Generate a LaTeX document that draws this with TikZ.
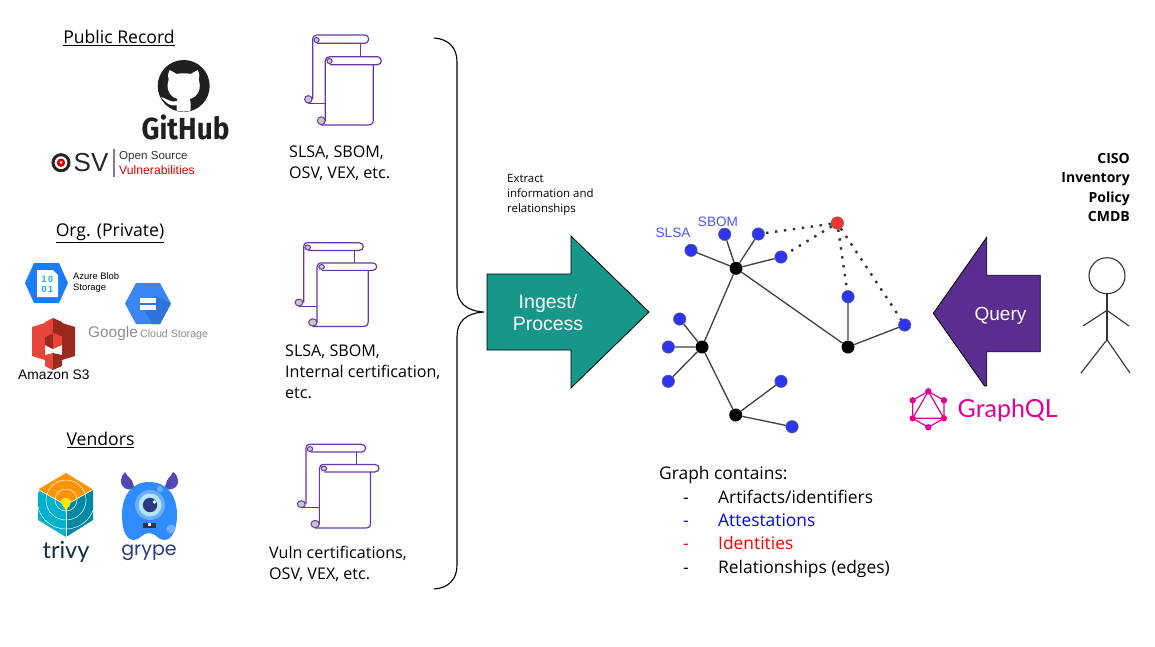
\documentclass[tikz,border=0pt]{standalone}
\usepackage{fontspec}
\usetikzlibrary{arrows.meta}
\setmainfont{Open Sans}
\newfontfamily\lib{Liberation Sans}
\newfontfamily\fira{Fira Sans}
\newfontfamily\lato{Lato}
\newfontfamily\pop{Poppins}
\definecolor{scrollc}{HTML}{6A35A8}
\definecolor{tealar}{HTML}{16978A}
\definecolor{qpurple}{HTML}{5C2D91}
\definecolor{vblue}{HTML}{2E35F0}
\definecolor{vred}{HTML}{F0352E}
\definecolor{gql}{HTML}{E10098}
\definecolor{azurehex}{HTML}{1A7CFB}
\definecolor{azuretxt}{HTML}{1EA7F5}
\definecolor{gcphex}{HTML}{3A86F5}
\definecolor{gcpdark}{HTML}{2F74DC}
\definecolor{s3light}{HTML}{E8453A}
\definecolor{s3dark}{HTML}{9A2A1C}
\definecolor{trorange}{HTML}{FF9400}
\definecolor{trcyan}{HTML}{00B0CF}
\definecolor{trteal}{HTML}{0088A5}
\definecolor{trtxt}{HTML}{0F2F3F}
\definecolor{grbody}{HTML}{2F8CFF}
\definecolor{grhorn}{HTML}{5546B5}
\definecolor{grtxt}{HTML}{2E3A80}
\tikzset{
  x=1pt,y=-1pt,
  heading/.style={font=\fontsize{17.6}{21}\selectfont,anchor=center,inner sep=0pt},
  body/.style={font=\fontsize{16.1}{21}\selectfont,align=left,anchor=north west,inner sep=0pt},
  listitem/.style={font=\fontsize{17.4}{20}\selectfont,anchor=base west,inner sep=0pt},
  blue vertex/.style={circle,draw=black!60,line width=.5pt,fill=vblue,minimum size=12.5pt,inner sep=0pt},
  black vertex/.style={circle,fill=black,minimum size=13pt,inner sep=0pt},
  red vertex/.style={circle,draw=black!60,line width=.5pt,fill=vred,minimum size=12.5pt,inner sep=0pt},
  edge line/.style={draw=black!75,line width=1.3pt},
  dot line/.style={draw=black!80,line width=2.4pt,dash pattern=on 2.4pt off 6.6pt},
  stick/.style={draw=black!80,line width=1.1pt},
  scrollline/.style={draw=scrollc,line width=1.2pt,line join=round},
  curl/.style={draw=scrollc,line width=1pt,fill=black!22},
  lbl/.style={inner sep=0pt,anchor=center},
  pics/scrollicon/.style={code={
    \draw[scrollline] (4.3,69.3) -- (21.3,69.3);
    \draw[scrollline] (8.7,65) -- (8.7,6) .. controls (8.7,2.5) and (10,1) .. (13,1) -- (60.7,1) .. controls (66,1) and (66,9.3) .. (60.7,9.3) -- (13,9.3);
    \draw[scrollline] (56.3,9.3) -- (56.3,22.7);
    \draw[curl] (4.3,65.3) circle (3.7);
    \draw[curl] (12.5,6) circle (2.6);
    \draw[scrollline] (21.3,87) -- (21.3,27) .. controls (21.3,24) and (23,22.7) .. (26,22.7) -- (73.5,22.7) .. controls (78.5,22.7) and (78.5,30.7) .. (73.5,30.7) -- (26,30.7);
    \draw[scrollline] (69.3,30.7) -- (69.3,86) .. controls (69.3,89.5) and (67.5,91) .. (64,91) -- (17,91);
    \draw[curl] (17.3,86.7) circle (3.9);
    \draw[curl] (25.5,27) circle (2.6);
  }}
}
\begin{document}
\begin{tikzpicture}
\useasboundingbox (0,0) rectangle (1155,646);

% ---- headings
\node[heading] (h1) at (119,38) {\underline{Public Record}};
\node[heading] (h2) at (110,233) {\underline{Org. (Private)}};
\node[heading] (h3) at (100.5,440) {\underline{Vendors}};

% ---- GitHub
\begin{scope}[shift={(183.7,86)}]
  \fill[black!88] (0,0) circle (26);
  \clip (0,0) circle (25.6);
  \fill[white] (-14,-16) -- (-7,-12) .. controls (-3,-13) and (3,-13) .. (7,-12) -- (14,-16)
     .. controls (16,-12) and (16,-9) .. (15,-6) .. controls (18,1) and (15,11) .. (6,13)
     .. controls (7,15) and (7,17) .. (7,30) -- (-7,30) -- (-7,19)
     .. controls (-14,21) and (-17,17) .. (-23,11) .. controls (-17,12) and (-14,17) .. (-7,15)
     -- (-6,13) .. controls (-15,11) and (-18,1) .. (-15,-6) .. controls (-16,-9) and (-16,-12) .. (-14,-16) -- cycle;
\end{scope}
\node[lbl,text=black!88,font=\fira\bfseries\fontsize{30.5}{30}\selectfont,xscale=.915] (gh) at (185.5,127) {GitHub};

% ---- OSV
\draw[black!85,line width=3pt] (61,162.7) circle (8);
\fill[red!85!black] (61,162.7) circle (4.2);
\fill[white] (61,162.5) circle (1.4);
\node[lbl,anchor=west,text=black!85,font=\lib\fontsize{26}{28}\selectfont] (osv) at (73.5,163) {SV};
\fill[black!50] (113.2,149) rectangle (115,177);
\node[lbl,anchor=west,text=black!80,font=\lib\fontsize{11.6}{13}\selectfont] (osv1) at (119,156.8) {Open Source};
\node[lbl,anchor=west,text=red!85!black,font=\lib\fontsize{12.2}{13}\selectfont] (osv2) at (119,169.8) {Vulnerabilities};

% ---- Azure
\fill[azurehex] (25,283) -- (34,263) -- (59,263) -- (68,283) -- (59,303) -- (34,303) -- cycle;
\fill[white] (37,270) -- (53,270) -- (58,275) -- (58,297) -- (37,297) -- cycle;
\node[lbl,text=azuretxt,align=center,font=\lib\bfseries\fontsize{9}{10}\selectfont] (az) at (47.5,284) {1\,0\\0\,1};
\node[lbl,anchor=north west,align=left,font=\lib\fontsize{9.4}{10.5}\selectfont] (azt) at (73,272.5) {Azure Blob\\Storage};

% ---- Google
\fill[gcphex] (125,303.5) -- (136,283) -- (160,283) -- (171,303.5) -- (160,324) -- (136,324) -- cycle;
\fill[gcpdark] (140,302) -- (156,296) -- (171,303.5) -- (160,324) -- (152,324) -- cycle;
\fill[white] (140,298) rectangle (156,302.5);
\fill[white] (140,305) rectangle (156,309.5);
\node[lbl,anchor=west,text=black!45,font=\lib\fontsize{15.4}{20}\selectfont] (gg) at (88,334) {Google};
\node[lbl,anchor=west,text=black!45,font=\lib\fontsize{10.6}{14}\selectfont] (gcs) at (140,335) {Cloud Storage};

% ---- S3
\fill[s3light] (32,327) -- (45,323) -- (45,360) -- (32,356) -- cycle;
\fill[s3dark] (75,327) -- (62,323) -- (62,360) -- (75,356) -- cycle;
\fill[s3light] (45,322) -- (53,318) -- (53,333) -- (45,337) -- cycle;
\fill[s3dark] (62,322) -- (53,318) -- (53,333) -- (62,337) -- cycle;
\fill[s3dark] (45,337) -- (53,333) -- (53,349) -- (45,345) -- cycle;
\fill[s3light] (53,333) -- (62,337) -- (62,345) -- (53,349) -- cycle;
\fill[s3light] (45,355) -- (53,353) -- (53,370) -- (45,366) -- cycle;
\fill[s3dark] (62,355) -- (53,353) -- (53,370) -- (62,366) -- cycle;
\node[lbl,anchor=west,font=\lib\fontsize{13.8}{16}\selectfont] (s3) at (18,375) {Amazon S3};

% ---- Trivy
\fill[trcyan] (38,490) -- (66,505) -- (66,537) -- (38,520) -- cycle;
\fill[trteal] (93,490) -- (66,505) -- (66,537) -- (93,520) -- cycle;
\fill[trorange] (66,473) -- (93,489.5) -- (66,505) -- (38,489.5) -- cycle;
\begin{scope}
  \clip (66,473) -- (93,490) -- (93,520) -- (66,537) -- (38,520) -- (38,490) -- cycle;
  \draw[white,line width=.5pt] (66,500) circle (11) (66,500) circle (20);
  \draw[white,line width=.5pt] (66,500) circle (29);
\end{scope}
\draw[white,line width=.6pt] (66,505) -- (66,537);
\draw[white,line width=.6pt] (66,505) -- (38,489.5) (66,505) -- (93,489.5);
\fill[yellow!90!orange] (66,510) .. controls (62,506) and (61,503) .. (61,501) .. controls (61,497) and (71,497) .. (71,501) .. controls (71,503) and (70,506) .. (66,510) -- cycle;
\node[lbl,text=trtxt,font=\lato\fontsize{23.5}{28}\selectfont] (trivy) at (66,552) {trivy};

% ---- Grype
\fill[grhorn] (135,489) .. controls (125,491) and (120,486) .. (121,480) .. controls (121,477) and (123,474) .. (125,472) .. controls (127,477) and (133,479) .. (133,484) -- cycle;
\fill[grhorn] (164,489) .. controls (174,491) and (179,486) .. (178,480) .. controls (178,477) and (176,474) .. (173,472) .. controls (171,477) and (166,479) .. (166,484) -- cycle;
\fill[grbody] (122,515) .. controls (122,495) and (132,482) .. (149,482) .. controls (167,482) and (177,495) .. (177,515) .. controls (177,530) and (172,540) .. (164,540) .. controls (158,540) and (156,533) .. (149,533) .. controls (142,533) and (140,540) .. (134,540) .. controls (126,540) and (122,530) .. (122,515) -- cycle;
\fill[grbody!70!white] (171,529) circle (4.5);
\fill[grbody!70!white] (160,489) circle (3);
\fill[grbody!70!white] (150,505) circle (15);
\fill[white!70!cyan] (150,505) circle (11.5);
\fill[grtxt] (150,505) circle (7.2);
\fill[white] (154.5,502) circle (1.8);
\fill[black!80] (143,523) rectangle (156,527.5);
\fill[white] (148,523) rectangle (151,525.5);
\node[lbl,text=grtxt,font=\pop\fontsize{19}{22}\selectfont] (grype) at (149,553) {grype};

% ---- scrolls
\pic (s1) at (304,34) {scrollicon};
\pic[xscale=1.065,yscale=.93] (s2) at (294.4,241.8) {scrollicon};
\pic[xscale=1.065,yscale=.93] (s3i) at (296.7,443.4) {scrollicon};

\node[body] (t1) at (289,146) {SLSA, SBOM,\\OSV, VEX, etc.};
\node[body] (t2) at (285,344.5) {SLSA, SBOM,\\Internal certification,\\etc.};
\node[body] (t3) at (269,546) {Vuln certifications,\\OSV, VEX, etc.};

% ---- brace
\draw[black,line width=1.1pt] (434,38) .. controls (449,39) and (457,48) .. (457,62) -- (457,288)
  .. controls (457,303) and (467,311) .. (484,312) .. controls (467,313) and (457,321) .. (457,336)
  -- (457,565) .. controls (457,579) and (449,588) .. (434,589);

\node[lbl,anchor=north west,align=left,font=\fontsize{11.4}{15}\selectfont] (ex) at (507,174) {Extract\\information and\\relationships};

% ---- arrows
\draw[fill=tealar,draw=black,line width=.8pt] (487,274) -- (571,274) -- (571,236) -- (649,312) -- (571,388) -- (571,350) -- (487,350) -- cycle;
\node[lbl,text=white,align=center,font=\lib\fontsize{19.5}{22}\selectfont] (ing) at (548,313) {Ingest/\\Process};
\draw[fill=qpurple,draw=black,line width=.8pt] (1040.3,275.3) -- (986.7,275.3) -- (986.7,237.3) -- (933.3,313.3) -- (984.6,386) -- (986.7,386) -- (986.7,351.7) -- (1040.3,351.7) -- cycle;
\node[lbl,text=white,font=\lib\fontsize{19}{22}\selectfont] (q) at (1000.5,316) {Query};

% ---- graph
\node[black vertex] (b1) at (736,268.3) {};
\node[black vertex] (b2) at (702,347) {};
\node[black vertex] (b3) at (848,347) {};
\node[black vertex] (b4) at (735.7,415) {};
\node[red vertex] (r) at (837.3,223) {};
\node[blue vertex] (v1) at (691,250.3) {};
\node[blue vertex] (v2) at (724.7,234.3) {};
\node[blue vertex] (v3) at (758.3,234) {};
\node[blue vertex] (v4) at (781,257) {};
\node[blue vertex] (v5) at (848,296.7) {};
\node[blue vertex] (v6) at (904.7,325) {};
\node[blue vertex] (v7) at (679.7,319) {};
\node[blue vertex] (v8) at (668.3,347) {};
\node[blue vertex] (v9) at (668.3,381.3) {};
\node[blue vertex] (v10) at (781,381.3) {};
\node[blue vertex] (v11) at (792,426.7) {};
\path[edge line] (b1) -- (v1) (b1) -- (v2) (b1) -- (v3) (b1) -- (v4) (b1) -- (b2) (b1) -- (b3)
  (b3) -- (v5) (b3) -- (v6) (b2) -- (v7) (b2) -- (v8) (b2) -- (v9) (b2) -- (b4) (b4) -- (v10) (b4) -- (v11);
\path[dot line] (r) -- (v3) (r) -- (v4) (r) -- (v5) (r) -- (v6);
\node[lbl,text=vblue!85!white,font=\lib\fontsize{13.6}{14}\selectfont] (slsa) at (673,233) {SLSA};
\node[lbl,text=vblue!85!white,font=\lib\fontsize{13.6}{14}\selectfont] (sbom) at (718,222) {SBOM};

% ---- graph legend
\node[listitem] (g0) at (659,479) {Graph contains:};
\node[listitem] (g1d) at (683,503) {-};
\node[listitem] (g1) at (718,503) {Artifacts/identifiers};
\node[listitem,text=blue] (g2d) at (683,526) {-};
\node[listitem,text=blue] (g2) at (718,526) {Attestations};
\node[listitem,text=red] (g3d) at (683,549.5) {-};
\node[listitem,text=red] (g3) at (718,549.5) {Identities};
\node[listitem] (g4d) at (683,573) {-};
\node[listitem] (g4) at (718,573) {Relationships (edges)};

% ---- person
\draw[stick] (1107,275.7) circle (18);
\draw[stick] (1107,293.7) -- (1107,339.7);
\draw[stick] (1083,326) -- (1107,310.3) -- (1129,326);
\draw[stick] (1081,373) -- (1107,339.7) -- (1130,373);
\node[lbl,anchor=north east,align=right,font=\bfseries\fontsize{14}{19.5}\selectfont] (roles) at (1130,153) {CISO\\Inventory\\Policy\\CMDB};

% ---- GraphQL
\begin{scope}[shift={(928.3,409.3)}]
  \draw[gql,line width=1.2pt] (0,-18) -- (15.6,-9) -- (15.6,9) -- (0,18) -- (-15.6,9) -- (-15.6,-9) -- cycle;
  \draw[gql,line width=1.2pt] (0,-18) -- (15.6,9) -- (-15.6,9) -- cycle;
  \foreach \p in {(0,-18),(15.6,-9),(15.6,9),(0,18),(-15.6,9),(-15.6,-9)} \fill[gql] \p circle (3.2);
\end{scope}
\node[lbl,anchor=west,text=gql,font=\lato\fontsize{25}{30}\selectfont] (gq) at (957.5,410.5) {GraphQL};
\end{tikzpicture}
\end{document}
